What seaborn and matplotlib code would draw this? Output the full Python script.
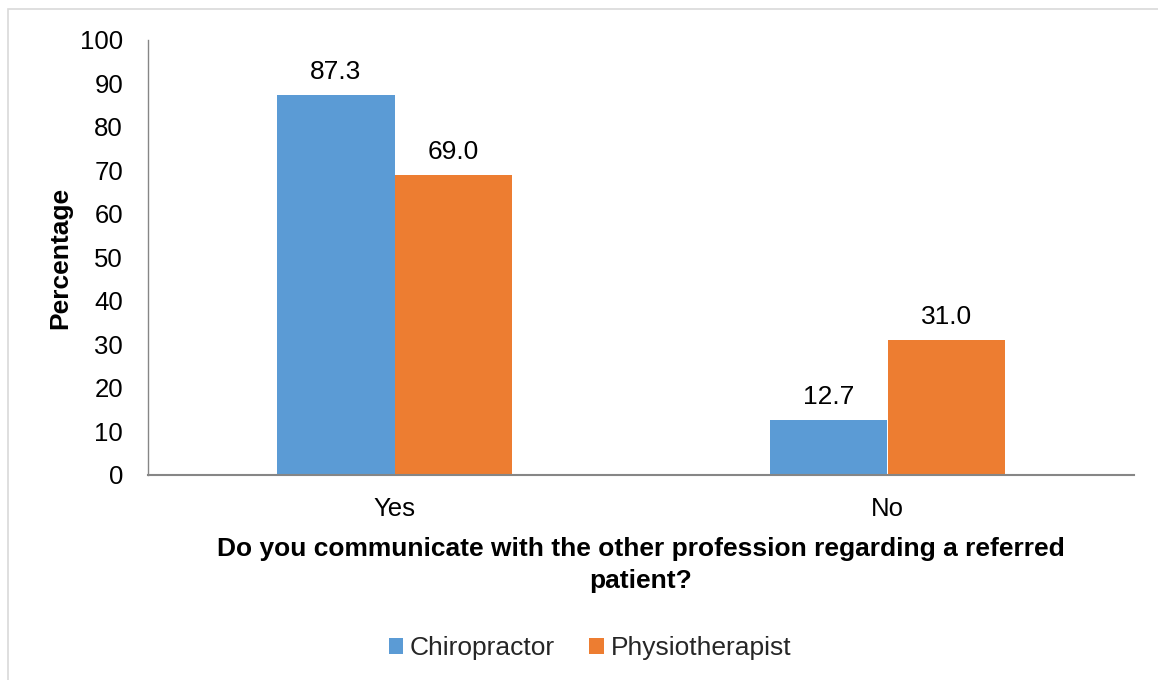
import matplotlib
matplotlib.use("Agg")
import matplotlib.pyplot as plt
from matplotlib.patches import Rectangle, Patch
import seaborn as sns
import pandas as pd

categories = ["Yes", "No"]
groups = ["Chiropractor", "Physiotherapist"]
chiropractor = [87.3, 12.7]
physiotherapist = [69.0, 31.0]
colors = ["#5B9BD5", "#ED7D31"]
yticks = list(range(0, 101, 10))

rows = []
for c, v in zip(categories, chiropractor):
    rows.append({"answer": c, "pct": v, "group": groups[0]})
for c, v in zip(categories, physiotherapist):
    rows.append({"answer": c, "pct": v, "group": groups[1]})
df = pd.DataFrame(rows)

sns.set_theme(style="white")
plt.rcParams["font.family"] = ["Liberation Sans", "DejaVu Sans"]

fig = plt.figure(figsize=(11.58, 6.8), dpi=100)
ax = fig.add_axes([148/1158, 1-475/680, (1134-148)/1158, (475-40)/680])

sns.barplot(data=df, x="answer", y="pct", hue="group", order=categories,
            hue_order=groups, palette=colors, width=0.476, saturation=1,
            ax=ax, legend=False, errorbar=None, linewidth=0)

for cont in ax.containers:
    ax.bar_label(cont, fmt="%.1f", padding=8, fontsize=19, color="#000000")

ax.set_ylim(0, 100)
ax.set_yticks(yticks)
ax.tick_params(axis="both", length=0, pad=16, labelsize=18.5, colors="#000000")
ax.tick_params(axis="y", pad=18)
for s in ["top", "right"]:
    ax.spines[s].set_visible(False)
ax.spines["left"].set_color("#868686")
ax.spines["left"].set_linewidth(1.0)
ax.spines["bottom"].set_color("#868686")
ax.spines["bottom"].set_linewidth(1.5)

ax.set_ylabel("Percentage", fontsize=19, fontweight="bold", color="#000000")
ax.yaxis.set_label_coords(-0.077, 0.5)
ax.set_xlabel("Do you communicate with the other profession regarding a referred\npatient?",
              fontsize=19, fontweight="bold", color="#000000", linespacing=1.45)
ax.xaxis.set_label_coords(0.5, -0.142)

handles = [Patch(facecolor=colors[0], edgecolor="none", label=groups[0]),
           Patch(facecolor=colors[1], edgecolor="none", label=groups[1])]
fig.legend(handles=handles, loc="center", bbox_to_anchor=(590/1158, 1-648/680),
           ncol=2, frameon=False, fontsize=19, handlelength=0.55, handleheight=0.55,
           handletextpad=0.25, columnspacing=1.3)

fig.patches.append(Rectangle((8/1158, -0.05), 1.1, 1-9/680+0.05,
                             transform=fig.transFigure, fill=False,
                             edgecolor="#D9D9D9", linewidth=1.2))

fig.savefig("out.png", dpi=100)
